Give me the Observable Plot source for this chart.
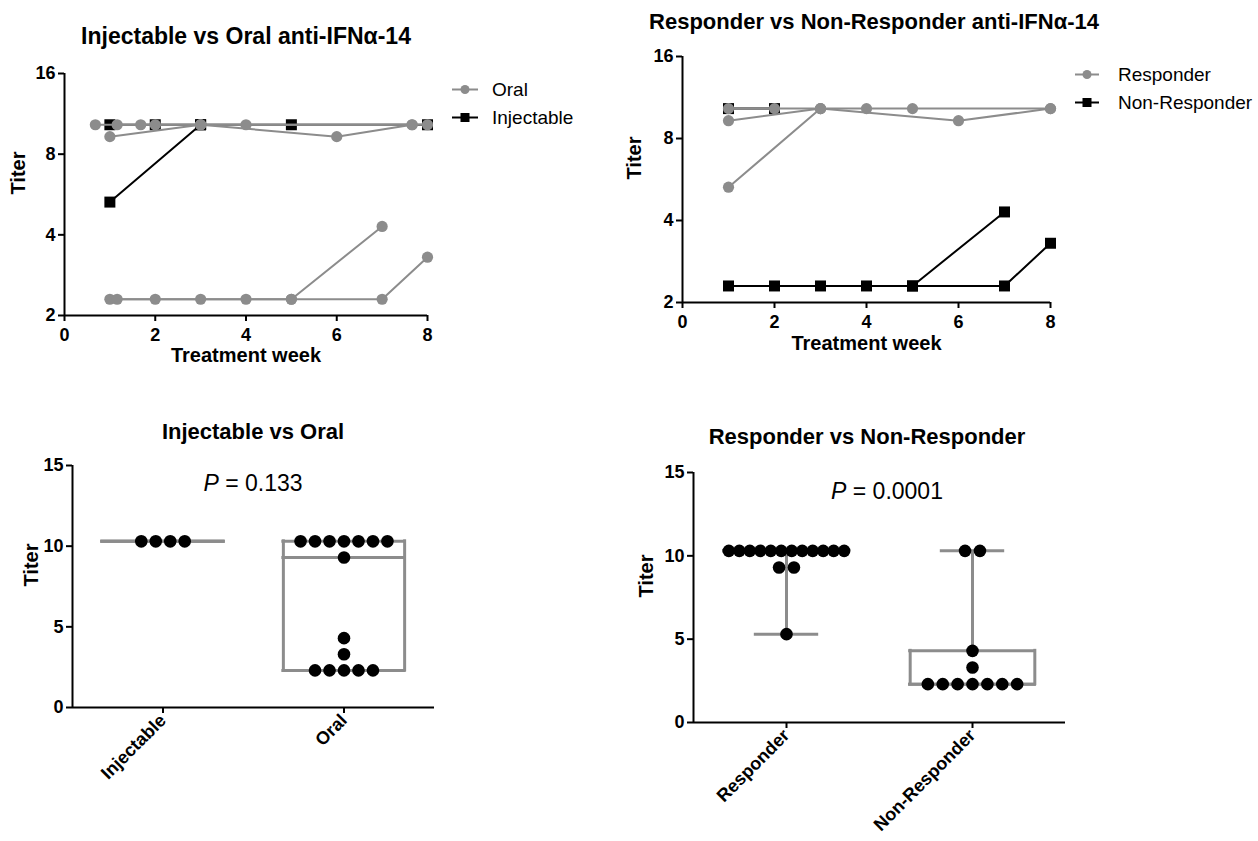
<!DOCTYPE html>
<html><head><meta charset="utf-8">
<script src="https://cdn.jsdelivr.net/npm/d3@7"></script>
<script src="https://cdn.jsdelivr.net/npm/@observablehq/plot@0.6"></script>
<style>
body{margin:0;background:#fff;font-family:"Liberation Sans",Arial,sans-serif;}
#root{position:relative;width:1258px;height:841px;overflow:hidden;background:#fff;}
.panel{position:absolute;}
.title{position:absolute;transform:translate(-50%,-50%);font-weight:bold;font-size:22px;line-height:1;white-space:nowrap;color:#000;}
.ptext{position:absolute;transform:translate(-50%,-50%);font-size:23px;line-height:1;white-space:nowrap;color:#000;}
.leg{position:absolute;display:flex;align-items:center;font-size:19px;line-height:1;transform:translateY(-50%);white-space:nowrap;color:#000;}
.leg svg{display:block;}
</style></head>
<body><div id="root"></div>
<script>
// ---------- DATA ----------
// Top-left: Injectable vs Oral anti-IFNα-14, each inner array is one subject's [week, titer]
const oralLines = [
  [[0.68,10.3],[1.68,10.3],[3,10.3],[4,10.3],[7.66,10.3]],
  [[1.16,10.3],[2,10.3],[3,10.3],[8,10.3]],
  [[1,9.3],[3,10.3],[6,9.3],[7.66,10.3]],
  [[1,2.3],[2,2.3],[3,2.3],[4,2.3],[5,2.3],[7,4.3]],
  [[1.16,2.3],[5,2.3],[7,2.3],[8,3.3]]
];
const injectableLines = [
  [[1,10.3],[2,10.3],[3,10.3],[5,10.3],[8,10.3]],
  [[1,5.3],[3,10.3]]
];
// Top-right: Responder vs Non-Responder anti-IFNα-14
const responderLines = [
  [[1,10.3],[2,10.3],[3,10.3],[4,10.3],[5,10.3],[8,10.3]],
  [[1,9.3],[3,10.3],[6,9.3],[8,10.3]],
  [[1,5.3],[3,10.3]]
];
const nonResponderLines = [
  [[1,10.3],[2,10.3]],
  [[1,2.3],[2,2.3],[3,2.3],[4,2.3],[5,2.3],[7,4.3]],
  [[5,2.3],[7,2.3],[8,3.3]]
];
const weekTicks = [0,2,4,6,8];
const logTiterTicks = [2,4,8,16];

// Bottom: titers per group
const groupsLeft = ["Injectable","Oral"];
const injectableTiters = [10.3,10.3,10.3,10.3];
const oralTiters = [10.3,10.3,10.3,10.3,10.3,10.3,10.3,9.3,4.3,3.3,2.3,2.3,2.3,2.3,2.3];
const groupsRight = ["Responder","Non-Responder"];
const responderTiters = [10.3,10.3,10.3,10.3,10.3,10.3,10.3,10.3,10.3,10.3,10.3,10.3,9.3,9.3,5.3];
const nonResponderTiters = [10.3,10.3,4.3,3.3,2.3,2.3,2.3,2.3,2.3,2.3,2.3];
const linearTiterTicks = [0,5,10,15];
const pLeft = "0.133";
const pRight = "0.0001";

// ---------- HELPERS ----------
const GRAY = "#8c8c8c";
const FONT = '"Liberation Sans", Arial, sans-serif';
const root = document.getElementById("root");

function rows(lines, tag) {
  return lines.flatMap((pts, i) => pts.map(([week, titer]) => ({id: tag + i, week, titer})));
}
function gpQuantile(s, p) {
  const n = s.length, h = (n + 1) * p;
  if (h <= 1) return s[0];
  if (h >= n) return s[n - 1];
  const lo = Math.floor(h);
  return s[lo - 1] + (h - lo) * (s[lo] - s[lo - 1]);
}
function stats(vals, pos) {
  const s = vals.slice().sort(d3.ascending);
  return {pos, min: s[0], q1: gpQuantile(s, .25), med: gpQuantile(s, .5), q3: gpQuantile(s, .75), max: s[s.length - 1]};
}
function swarm(vals, pos) {
  const out = [];
  for (const [v, arr] of d3.group(vals, v => v)) {
    const k = arr.length;
    const step = k > 1 ? Math.min(0.08, 0.62 / (k - 1)) : 0;
    arr.forEach((_, j) => out.push({x: pos + (j - (k - 1) / 2) * step, titer: v}));
  }
  return out;
}
function place(node, left, top) {
  const d = document.createElement("div");
  d.className = "panel"; d.style.left = left + "px"; d.style.top = top + "px";
  d.appendChild(node); root.appendChild(d);
}
function addHTML(cls, html, left, top, extra) {
  const d = document.createElement("div");
  d.className = cls; d.innerHTML = html;
  d.style.left = left + "px"; d.style.top = top + "px";
  if (extra) Object.assign(d.style, extra);
  root.appendChild(d);
}
const baseStyle = {fontFamily: FONT, fontSize: "18px", fontWeight: "bold", color: "#000", background: "transparent", overflow: "visible"};

function linePlot({width, height, marginLeft, marginRight, marginTop, marginBottom, blackRows, grayRows, xLabelDy, yLabelDx}) {
  return Plot.plot({
    width, height, marginLeft, marginRight, marginTop, marginBottom,
    style: baseStyle,
    x: {domain: [0, 8]},
    y: {type: "log", base: 2, domain: [2, 16]},
    marks: [
      Plot.axisX({ticks: weekTicks, tickSize: 6, tickPadding: 7, strokeWidth: 2, label: null, tickFormat: d => d}),
      Plot.axisY({ticks: logTiterTicks, tickSize: 6, tickPadding: 3, strokeWidth: 2, label: null, tickFormat: d => d}),
      Plot.ruleY([2], {strokeWidth: 2}),
      Plot.ruleX([0], {strokeWidth: 2}),
      Plot.line(blackRows, {x: "week", y: "titer", z: "id", stroke: "#000", strokeWidth: 2}),
      Plot.dot(blackRows, {x: "week", y: "titer", symbol: "square", r: 6.2, fill: "#000"}),
      Plot.line(grayRows, {x: "week", y: "titer", z: "id", stroke: GRAY, strokeWidth: 2}),
      Plot.dot(grayRows, {x: "week", y: "titer", symbol: "circle", r: 5.6, fill: GRAY}),
      Plot.text(["Treatment week"], {frameAnchor: "bottom", dy: xLabelDy, fontSize: 20, fontWeight: "bold"}),
      Plot.text(["Titer"], {frameAnchor: "left", dx: yLabelDx, rotate: -90, fontSize: 20, fontWeight: "bold"})
    ]
  });
}

function boxPlot({width, height, marginLeft, marginRight, marginTop, marginBottom, cats, series, yLabelDx}) {
  const st = series.map((v, i) => stats(v, i));
  const dots = series.flatMap((v, i) => swarm(v, i));
  const BW = 0.67, CW = 0.33;
  const gs = {stroke: GRAY, strokeWidth: 3, strokeLinecap: "square"};
  const upper = st.filter(d => d.max > d.q3), lower = st.filter(d => d.min < d.q1);
  return Plot.plot({
    width, height, marginLeft, marginRight, marginTop, marginBottom,
    style: baseStyle,
    x: {domain: [-0.5, 1.5]},
    y: {domain: [0, 15]},
    marks: [
      Plot.axisX({ticks: [0, 1], tickFormat: i => cats[i], tickRotate: -45, tickSize: 6, tickPadding: 4, strokeWidth: 2, label: null}),
      Plot.axisY({ticks: linearTiterTicks, tickSize: 6, tickPadding: 3, strokeWidth: 2, label: null}),
      Plot.ruleY([0], {strokeWidth: 2}),
      Plot.ruleX([-0.5], {strokeWidth: 2}),
      // box
      Plot.ruleY(st, {y: "q1", x1: d => d.pos - BW / 2, x2: d => d.pos + BW / 2, ...gs}),
      Plot.ruleY(st, {y: "q3", x1: d => d.pos - BW / 2, x2: d => d.pos + BW / 2, ...gs}),
      Plot.ruleY(st, {y: "med", x1: d => d.pos - BW / 2, x2: d => d.pos + BW / 2, ...gs}),
      Plot.ruleX(st.filter(d => d.q3 > d.q1), {x: d => d.pos - BW / 2, y1: "q1", y2: "q3", ...gs}),
      Plot.ruleX(st.filter(d => d.q3 > d.q1), {x: d => d.pos + BW / 2, y1: "q1", y2: "q3", ...gs}),
      // whiskers
      Plot.ruleX(upper, {x: "pos", y1: "q3", y2: "max", stroke: GRAY, strokeWidth: 3}),
      Plot.ruleY(upper, {y: "max", x1: d => d.pos - CW / 2, x2: d => d.pos + CW / 2, ...gs}),
      Plot.ruleX(lower, {x: "pos", y1: "min", y2: "q1", stroke: GRAY, strokeWidth: 3}),
      Plot.ruleY(lower, {y: "min", x1: d => d.pos - CW / 2, x2: d => d.pos + CW / 2, ...gs}),
      Plot.dot(dots, {x: "x", y: "titer", r: 6.3, fill: "#000"}),
      Plot.text(["Titer"], {frameAnchor: "left", dx: yLabelDx, rotate: -90, fontSize: 20, fontWeight: "bold"})
    ]
  });
}

// ---------- TOP LEFT ----------
place(linePlot({width: 437, height: 325, marginLeft: 64, marginRight: 10, marginTop: 23, marginBottom: 60,
  blackRows: rows(injectableLines, "i"), grayRows: rows(oralLines, "o"), xLabelDy: 46, yLabelDx: -46}), 0, 50);
addHTML("title", "Injectable vs Oral anti-IFNα-14", 246, 36, {fontSize: "23px"});
addHTML("leg", `<svg width="26" height="14"><line x1="0" x2="26" y1="7" y2="7" stroke="${GRAY}" stroke-width="2"/><circle cx="13" cy="7" r="4.5" fill="${GRAY}"/></svg><span style="margin-left:14px">Oral</span>`, 452, 89);
addHTML("leg", `<svg width="26" height="14"><line x1="0" x2="26" y1="7" y2="7" stroke="#000" stroke-width="2"/><rect x="8.5" y="2.5" width="9" height="9" fill="#000"/></svg><span style="margin-left:14px">Injectable</span>`, 452, 117);

// ---------- TOP RIGHT ----------
place(linePlot({width: 440, height: 327, marginLeft: 62, marginRight: 10, marginTop: 21, marginBottom: 60,
  blackRows: rows(nonResponderLines, "n"), grayRows: rows(responderLines, "r"), xLabelDy: 47, yLabelDx: -48}), 620, 35);
addHTML("title", "Responder vs Non-Responder anti-IFNα-14", 874, 22);
addHTML("leg", `<svg width="24" height="14"><line x1="0" x2="24" y1="7" y2="7" stroke="${GRAY}" stroke-width="2"/><circle cx="12" cy="7" r="4.5" fill="${GRAY}"/></svg><span style="margin-left:19px">Responder</span>`, 1075, 74);
addHTML("leg", `<svg width="24" height="14"><line x1="0" x2="24" y1="7" y2="7" stroke="#000" stroke-width="2"/><rect x="7.5" y="2.5" width="9" height="9" fill="#000"/></svg><span style="margin-left:19px">Non-Responder</span>`, 1075, 102);

// ---------- BOTTOM LEFT ----------
place(boxPlot({width: 454, height: 377, marginLeft: 72, marginRight: 20, marginTop: 25, marginBottom: 110,
  cats: groupsLeft, series: [injectableTiters, oralTiters], yLabelDx: -41}), 0, 440);
addHTML("title", "Injectable vs Oral", 253, 432);
addHTML("ptext", `<i>P</i> = ${pLeft}`, 253, 483);

// ---------- BOTTOM RIGHT ----------
place(boxPlot({width: 460, height: 396, marginLeft: 73, marginRight: 15, marginTop: 27, marginBottom: 119,
  cats: groupsRight, series: [responderTiters, nonResponderTiters], yLabelDx: -47}), 620, 445);
addHTML("title", "Responder vs Non-Responder", 867, 437);
addHTML("ptext", `<i>P</i> = ${pRight}`, 887, 491);
</script>
</body></html>
